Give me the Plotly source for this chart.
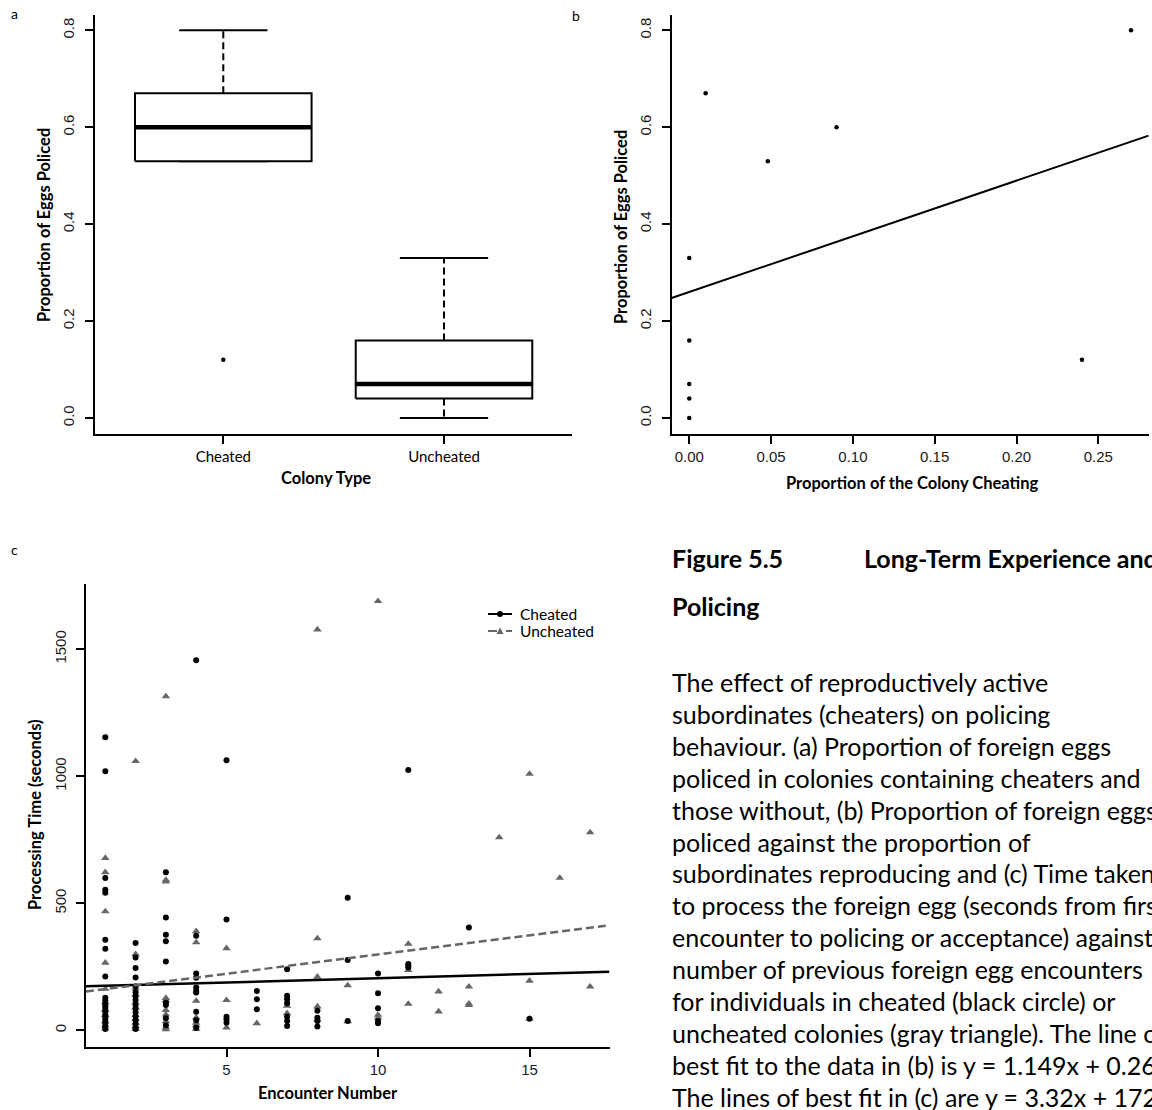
import numpy as np
import plotly.graph_objects as go

W, H = 1152, 1110

# ---------------- data ----------------
# (a) proportion of foreign eggs policed per colony, by colony type
colony_types = ["Cheated", "Uncheated"]
policed_cheated = [0.80, 0.67, 0.60, 0.53, 0.12]
policed_uncheated = [0.33, 0.16, 0.07, 0.04, 0.00]

# (b) proportion of the colony cheating vs proportion of eggs policed
colony_cheating = [0.00, 0.00, 0.00, 0.00, 0.00, 0.01, 0.048, 0.09, 0.24, 0.27]
eggs_policed = [0.00, 0.04, 0.07, 0.16, 0.33, 0.67, 0.53, 0.60, 0.12, 0.80]
fit_b = (1.149, 0.26)  # slope, intercept

# (c) processing time (s) by encounter number
cheated_times = {
    1: [1153, 1020, 600, 553, 542, 357, 321, 212, 128, 118, 105, 95, 85, 75, 62, 50, 40, 28, 15, 5],
    2: [344, 287, 245, 208, 173, 150, 135, 120, 100, 85, 70, 55, 40, 25, 12, 5],
    3: [622, 444, 376, 351, 271, 109, 100, 48, 20],
    4: [1456, 372, 224, 207, 169, 155, 149, 73, 40, 10],
    5: [1063, 436, 54, 44, 30],
    6: [155, 123, 83],
    7: [241, 136, 123, 107, 54, 37, 17],
    8: [77, 50, 37, 15],
    9: [522, 277, 37],
    10: [224, 146, 87, 37, 28],
    11: [1025, 261, 254, 247],
    13: [405],
    15: [46],
}
uncheated_times = {
    1: [678, 622, 468, 266, 163, 110, 80, 60, 35, 20, 8],
    2: [1059, 300, 165, 140, 110, 90, 60, 45, 30, 15, 5],
    3: [1314, 592, 585, 127, 118, 80, 62, 35, 12, 4],
    4: [390, 346, 116, 50, 30, 20, 5],
    5: [323, 119, 11],
    6: [28],
    7: [96, 67],
    8: [1577, 362, 211, 94, 42],
    9: [177, 35],
    10: [1689, 61, 50],
    11: [340, 237, 104],
    12: [153, 74],
    13: [172, 105, 99],
    14: [759],
    15: [1009, 195, 46],
    16: [600],
    17: [779, 172],
}
fit_cheated = (3.32, 172)     # slope, intercept
fit_uncheated = (15.1, 147.6)
legend_labels = ["Cheated", "Uncheated"]

caption_heading = ["Figure 5.5", "Long-Term Experience and", "Policing"]
caption_lines = [
    "The effect of reproductively active",
    "subordinates (cheaters) on policing",
    "behaviour. (a) Proportion of foreign eggs",
    "policed in colonies containing cheaters and",
    "those without, (b) Proportion of foreign eggs",
    "policed against the proportion of",
    "subordinates reproducing and (c) Time taken",
    "to process the foreign egg (seconds from first",
    "encounter to policing or acceptance) against the",
    "number of previous foreign egg encounters",
    "for individuals in cheated (black circle) or",
    "uncheated colonies (gray triangle). The line of",
    "best fit to the data in (b) is y = 1.149x + 0.26.",
    "The lines of best fit in (c) are y = 3.32x + 172",
]

# ---------------- helpers ----------------
def fx(px):
    return px / W

def fy(py):
    return 1 - py / H

def r_range(vals):
    lo, hi = min(vals), max(vals)
    pad = 0.04 * (hi - lo)
    return [lo - pad, hi + pad]

def flatten(d):
    xs, ys = [], []
    for k, v in d.items():
        xs += [k] * len(v)
        ys += v
    return xs, ys

GRAY = "#666666"
NUM_FONT = dict(family="Liberation Sans", size=15, color="#1a1a1a")
LBL_FONT = dict(family="Lato", size=15, color="black")

def axis(domain, rng, **kw):
    d = dict(domain=domain, range=rng, showline=True, linecolor="black", linewidth=2,
             ticks="outside", ticklen=8, tickwidth=2, tickcolor="black",
             showgrid=False, zeroline=False, tickfont=NUM_FONT)
    d.update(kw)
    return d

fig = go.Figure()

# ---------------- (a) box plot ----------------
box_half = 0.4
for i, vals in enumerate([policed_cheated, policed_uncheated]):
    c = i + 1
    v = np.array(vals)
    q1, med, q3 = np.percentile(v, [25, 50, 75])
    iqr = q3 - q1
    inside = v[(v >= q1 - 1.5 * iqr) & (v <= q3 + 1.5 * iqr)]
    lo_w, hi_w = inside.min(), inside.max()
    out = v[(v < q1 - 1.5 * iqr) | (v > q3 + 1.5 * iqr)]
    common = dict(xaxis="x", yaxis="y", showlegend=False, hoverinfo="skip", mode="lines")
    # whiskers
    fig.add_trace(go.Scatter(x=[c, c, None, c, c], y=[q3, hi_w, None, q1, lo_w],
                             line=dict(color="black", width=2, dash="7px,4px"), **common))
    # staples
    fig.add_trace(go.Scatter(x=[c - box_half / 2, c + box_half / 2, None, c - box_half / 2, c + box_half / 2],
                             y=[hi_w, hi_w, None, lo_w, lo_w],
                             line=dict(color="black", width=2), **common))
    # box
    fig.add_trace(go.Scatter(x=[c - box_half, c + box_half, c + box_half, c - box_half, c - box_half],
                             y=[q1, q1, q3, q3, q1], fill="toself", fillcolor="white",
                             line=dict(color="black", width=2), **common))
    # median
    fig.add_trace(go.Scatter(x=[c - box_half, c + box_half], y=[med, med],
                             line=dict(color="black", width=4.5), **common))
    if len(out):
        fig.add_trace(go.Scatter(x=[c] * len(out), y=out, mode="markers", xaxis="x", yaxis="y",
                                 marker=dict(color="black", size=4.5), showlegend=False))

# ---------------- (b) scatter + fit ----------------
xr_b = r_range(colony_cheating)
fig.add_trace(go.Scatter(x=colony_cheating, y=eggs_policed, mode="markers", xaxis="x2", yaxis="y2",
                         marker=dict(color="black", size=4.5), showlegend=False))
fig.add_trace(go.Scatter(x=xr_b, y=[fit_b[0] * x + fit_b[1] for x in xr_b], mode="lines",
                         xaxis="x2", yaxis="y2", line=dict(color="black", width=2), showlegend=False))

# ---------------- (c) scatter + fits ----------------
cx, cy = flatten(cheated_times)
ux, uy = flatten(uncheated_times)
xr_c = r_range(cx + ux)
yr_c = r_range(cy + uy)
fig.add_trace(go.Scatter(x=ux, y=uy, mode="markers", xaxis="x3", yaxis="y3", showlegend=False,
                         marker=dict(symbol="triangle-up", color=GRAY, size=7.5)))
fig.add_trace(go.Scatter(x=cx, y=cy, mode="markers", xaxis="x3", yaxis="y3", showlegend=False,
                         marker=dict(symbol="circle", color="black", size=6)))
fig.add_trace(go.Scatter(x=xr_c, y=[fit_cheated[0] * x + fit_cheated[1] for x in xr_c], mode="lines",
                         xaxis="x3", yaxis="y3", line=dict(color="black", width=2.5), showlegend=False))
fig.add_trace(go.Scatter(x=xr_c, y=[fit_uncheated[0] * x + fit_uncheated[1] for x in xr_c], mode="lines",
                         xaxis="x3", yaxis="y3", line=dict(color=GRAY, width=2.5, dash="8px,4px"),
                         showlegend=False))

yr_ab = r_range(policed_cheated + policed_uncheated)
ticks_ab = [0, 0.2, 0.4, 0.6, 0.8]

layout = dict(
    width=W, height=H, margin=dict(l=0, r=0, t=0, b=0),
    paper_bgcolor="white", plot_bgcolor="white", showlegend=False,
    xaxis=axis([fx(95.3), fx(572)], [0.42, 2.58], tickvals=[1, 2], ticktext=colony_types,
               tickfont=LBL_FONT, anchor="y"),
    yaxis=axis([fy(433.5), fy(14.8)], yr_ab, tickvals=ticks_ab,
               ticktext=[f"{t:.1f}" for t in ticks_ab], tickangle=-90, anchor="x",
               ticklabelstandoff=5),
    xaxis2=axis([fx(671.6), fx(1148.7)], xr_b, tickvals=[0, 0.05, 0.10, 0.15, 0.20, 0.25],
                ticktext=["0.00", "0.05", "0.10", "0.15", "0.20", "0.25"], anchor="y2"),
    yaxis2=axis([fy(433.5), fy(14.8)], yr_ab, tickvals=ticks_ab,
                ticktext=[f"{t:.1f}" for t in ticks_ab], tickangle=-90, anchor="x2",
                ticklabelstandoff=5),
    xaxis3=axis([fx(85.9), fx(609.5)], xr_c, tickvals=[5, 10, 15], anchor="y3"),
    yaxis3=axis([fy(1046.5), fy(584)], yr_c, tickvals=[0, 500, 1000, 1500], tickangle=-90,
                anchor="x3", ticklabelstandoff=4),
)

ann = []
def text(px, py, s, font, **kw):
    d = dict(x=fx(px), y=fy(py), xref="paper", yref="paper", text=s, showarrow=False, font=font,
             xanchor="center", yanchor="middle")
    d.update(kw)
    ann.append(d)

BOLD = dict(family="Lato", size=16.5, color="black", weight="bold")
LETTER = dict(family="Lato", size=14, color="black")
text(14, 14, "a", LETTER)
text(576, 16, "b", LETTER)
text(14, 549, "c", LETTER)
text(44, 225, "Proportion of Eggs Policed", BOLD, textangle=-90)
text(326, 478, "Colony Type", BOLD)
text(621, 227, "Proportion of Eggs Policed", BOLD, textangle=-90)
text(912, 483, "Proportion of the Colony Cheating", BOLD)
text(35, 815, "Processing Time (seconds)", BOLD, textangle=-90)
text(328, 1093, "Encounter Number", BOLD)

# legend for panel (c)
LEG = dict(family="Lato", size=15.5, color="black")
shapes = []
leg_rows = [(614, "black", "solid"), (631, GRAY, "dash")]
for (py, col, dash), label in zip(leg_rows, legend_labels):
    shapes.append(dict(type="line", xref="paper", yref="paper", x0=fx(488), x1=fx(512),
                       y0=fy(py), y1=fy(py), line=dict(color=col, width=2, dash=dash)))
    text(518, py, label, LEG, xanchor="left")
shapes.append(dict(type="circle", xref="paper", yref="paper", x0=fx(497), x1=fx(503),
                   y0=fy(617), y1=fy(611), fillcolor="black", line=dict(width=0)))
shapes.append(dict(type="path", xref="paper", yref="paper",
                   path=f"M {fx(496.5)},{fy(634)} L {fx(503.5)},{fy(634)} L {fx(500)},{fy(627.5)} Z",
                   fillcolor=GRAY, line=dict(width=0)))

# caption block
CAP = dict(family="Lato", size=25, color="black")
CAPB = dict(family="Lato", size=25, color="black", weight="bold")
text(670, 558, caption_heading[0], CAPB, xanchor="left")
text(862, 558, caption_heading[1], CAPB, xanchor="left")
text(670, 606, caption_heading[2], CAPB, xanchor="left")
for k, line in enumerate(caption_lines):
    text(670, 682 + 31.9 * k, line, CAP, xanchor="left")

layout["annotations"] = ann
layout["shapes"] = shapes
fig.update_layout(**layout)
fig.write_html("out.html")
